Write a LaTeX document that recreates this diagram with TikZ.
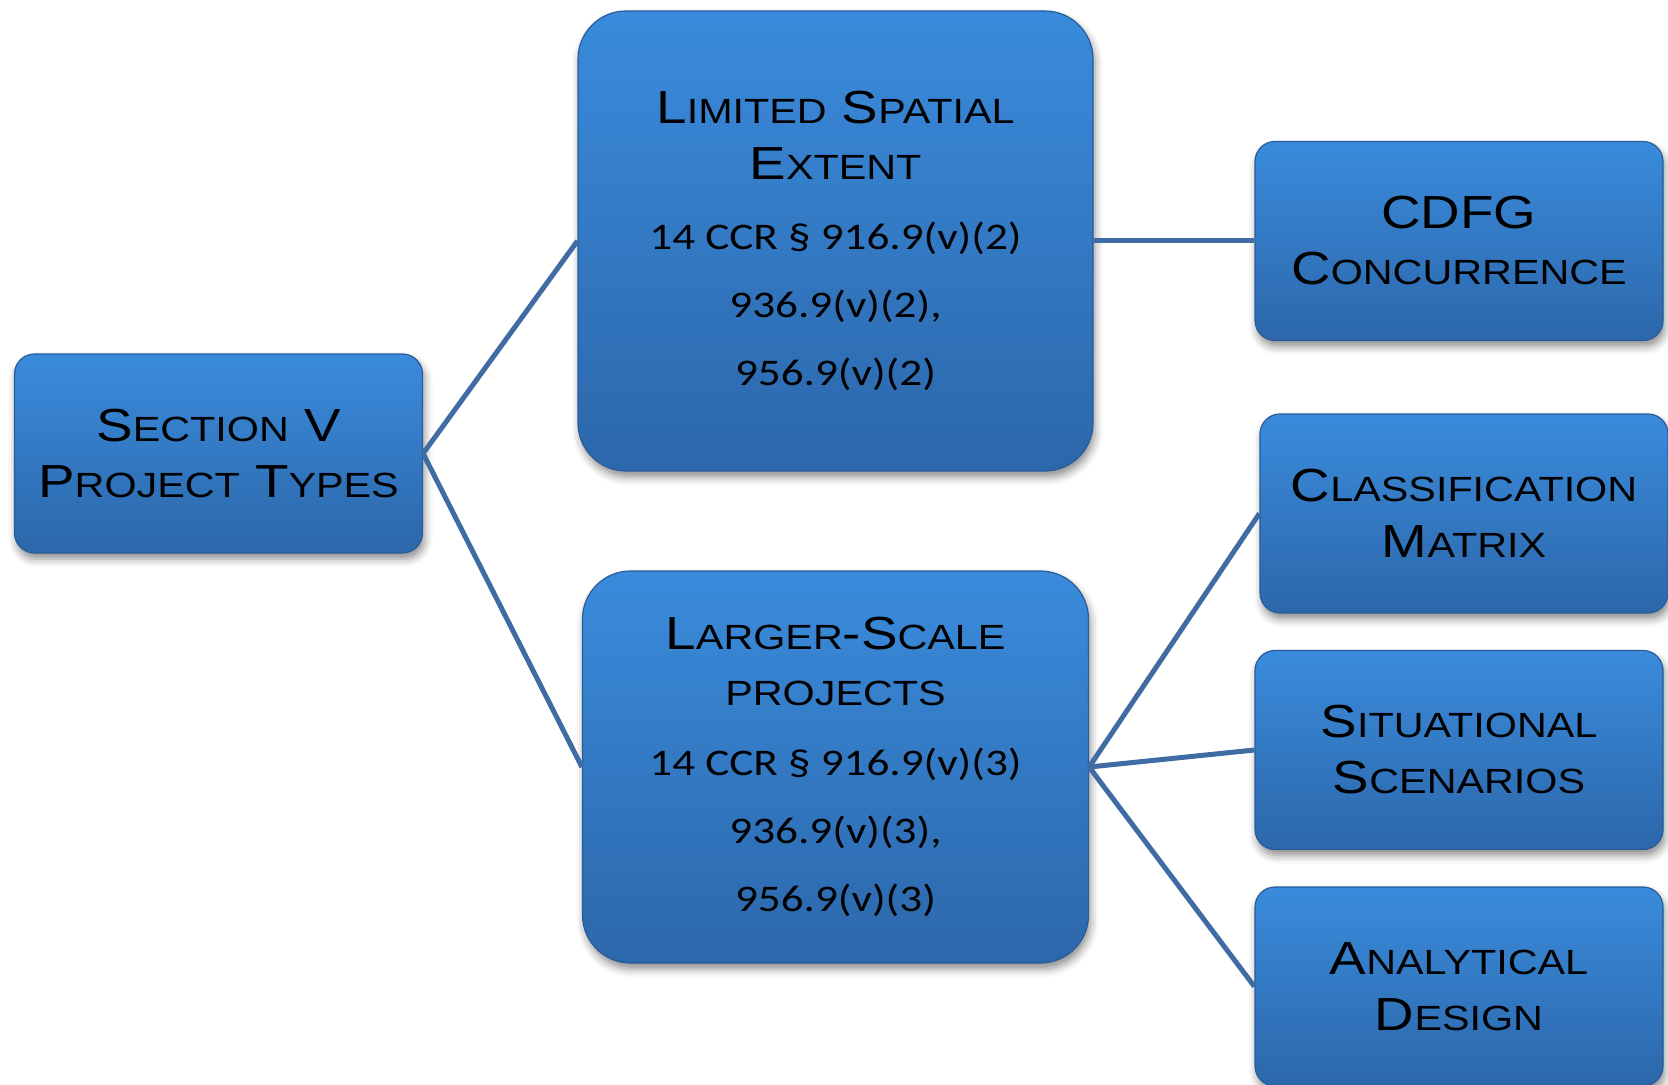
\documentclass[tikz,border=0pt]{standalone}
\usepackage{fontspec}
\usetikzlibrary{shadows.blur}

\newfontfamily\boxfont[FakeStretch=1.18]{Liberation Sans}
\newfontfamily\codefont[FakeStretch=1.2]{Carlito}
\newcommand\smallcap[1]{{\fontsize{17.5}{28}\selectfont\MakeUppercase{#1}}}
\newcommand\ccr[1]{{\codefont\fontsize{18.8}{34}\selectfont #1}}

\definecolor{boxtop}{RGB}{58,139,220}
\definecolor{boxbottom}{RGB}{44,103,170}
\definecolor{boxedge}{RGB}{40,92,155}
\definecolor{linkblue}{RGB}{62,108,163}

\tikzset{
  typebox/.style={rectangle, rounded corners=10pt, draw=boxedge, line width=0.6pt,
    top color=boxtop, bottom color=boxbottom,
    blur shadow={shadow xshift=1pt, shadow yshift=-3pt, shadow blur radius=4pt, shadow opacity=45},
    align=center, inner sep=0pt,
    font=\boxfont\fontsize{23.2}{28}\selectfont},
  smallbox/.style={typebox, minimum width=204pt, minimum height=99.5pt},
  tallbox/.style={typebox, rounded corners=24pt, minimum width=257.5pt, minimum height=230pt},
  widebox/.style={typebox, rounded corners=24pt, minimum width=253pt, minimum height=196pt},
}

\begin{document}
\begin{tikzpicture}
      [x=0.5pt, y=-0.5pt,
      grow'=right,
      edge from parent/.style={draw=linkblue, line width=2.5pt},
      edge from parent path={(\tikzparentnode.east) -- (\tikzchildnode.west)},
      level 1/.style={level distance=308.5pt, sibling distance=263pt},
      level 2/.style={level distance=311.75pt, sibling distance=118.25pt},
      ]
      \useasboundingbox (0,0) rectangle (1668,1085);
      \node[smallbox] (sec) at (218.5,453.5) {S\smallcap{ection} V\\P\smallcap{roject} T\smallcap{ypes}}
        child[yshift=-25.25pt] {node[tallbox] (lim)
            {L\smallcap{imited} S\smallcap{patial}\\E\smallcap{xtent}\\[7pt]
             \ccr{14 CCR § 916.9(v)(2)}\\[6pt]\ccr{936.9(v)(2),}\\[6pt]\ccr{956.9(v)(2)}}
          child {node[smallbox] (cdfg) {CDFG\\C\smallcap{oncurrence}}}}
        child[yshift=-25.25pt] {node[widebox] (large)
            {L\smallcap{arger}-S\smallcap{cale}\\\smallcap{projects}\\[7pt]
             \ccr{14 CCR § 916.9(v)(3)}\\[6pt]\ccr{936.9(v)(3),}\\[6pt]\ccr{956.9(v)(3)}}
          child[xshift=2.5pt, yshift=8.5pt] {node[smallbox] (matrix) {C\smallcap{lassification}\\M\smallcap{atrix}}}
          child[yshift=8.5pt] {node[smallbox] (scen) {S\smallcap{ituational}\\S\smallcap{cenarios}}}
          child[yshift=8.5pt] {node[smallbox] (design) {A\smallcap{nalytical}\\D\smallcap{esign}}}};
      \end{tikzpicture}
\end{document}
